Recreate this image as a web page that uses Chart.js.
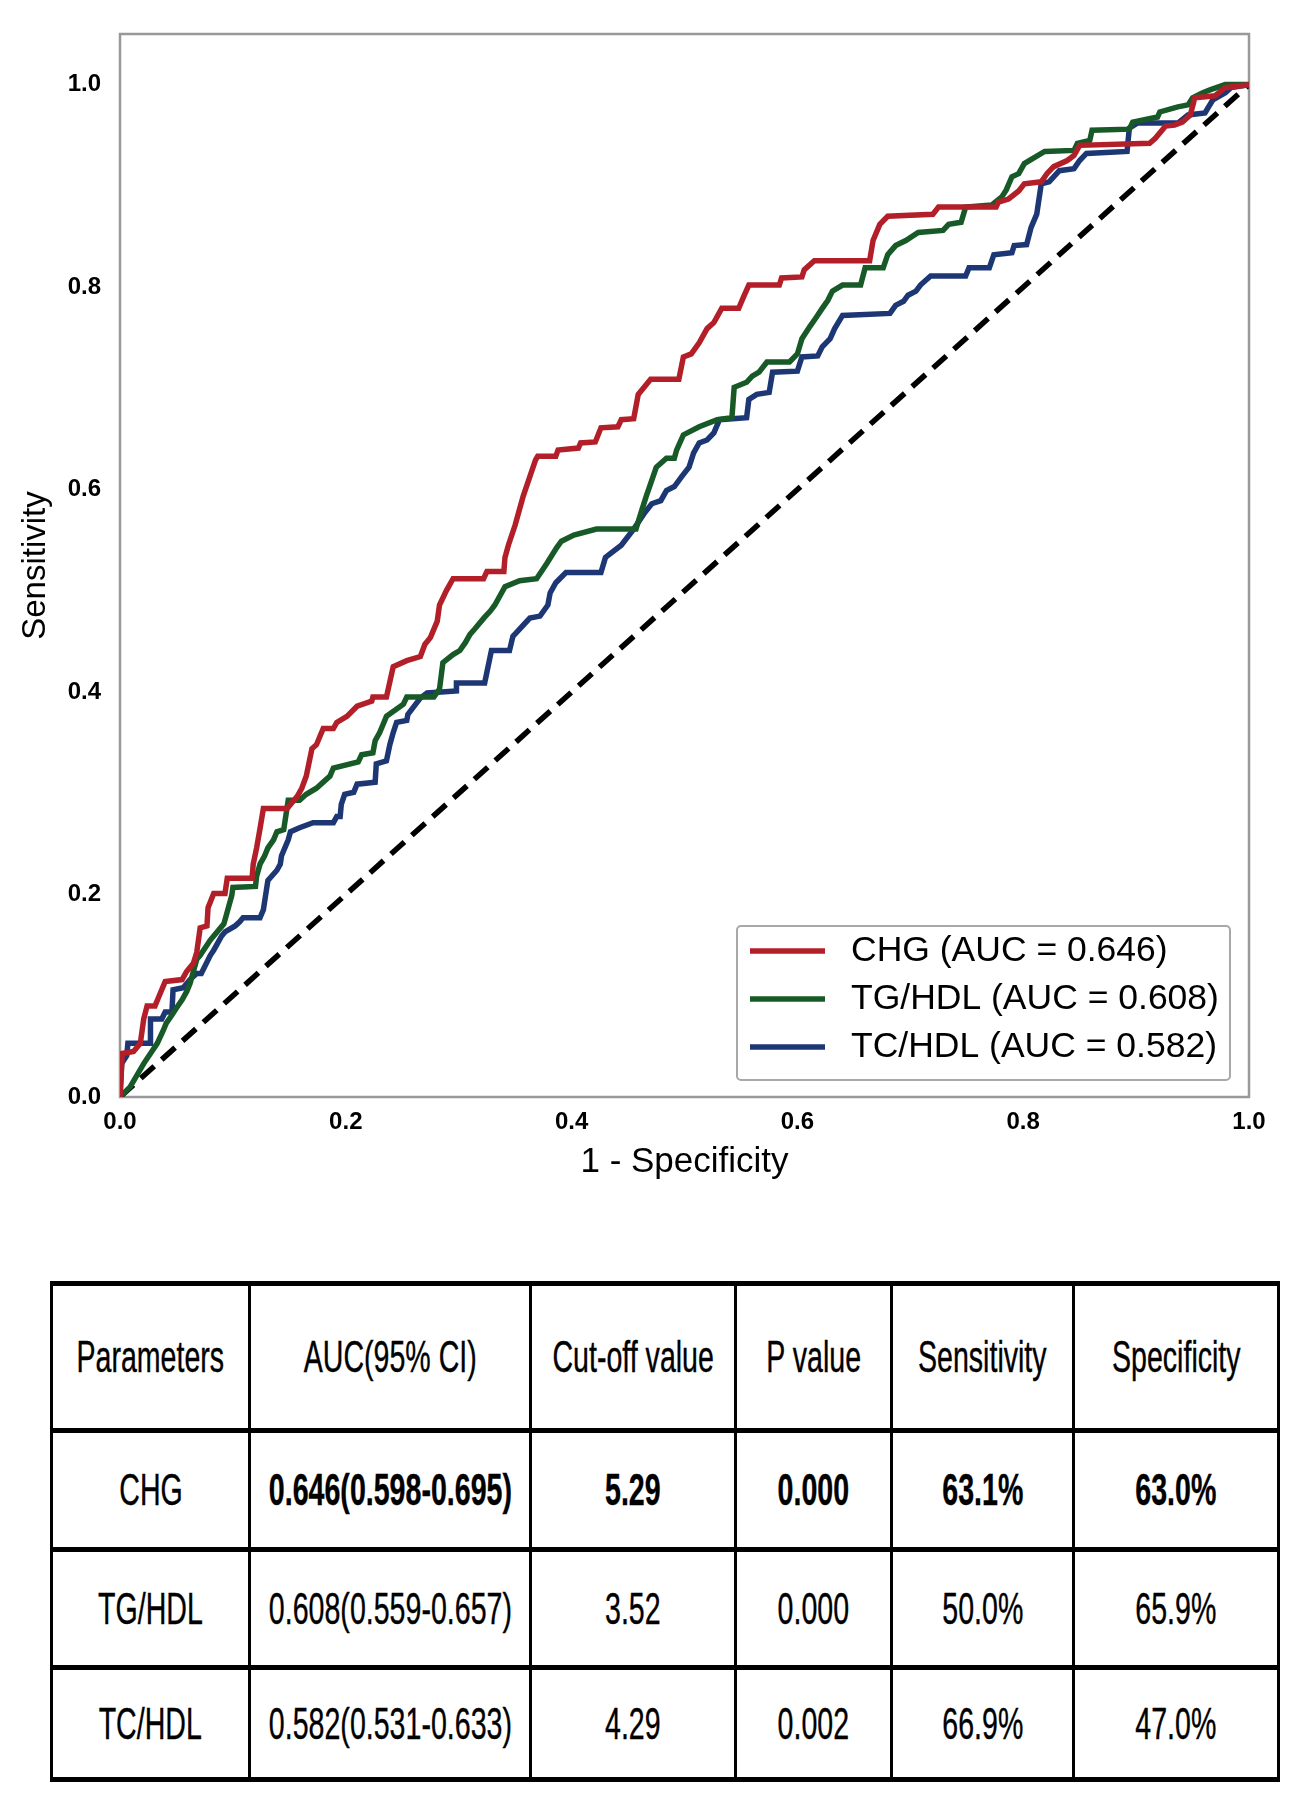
<!DOCTYPE html>
<html>
<head>
<meta charset="utf-8">
<script src="https://cdn.jsdelivr.net/npm/chart.js@4.4.0/dist/chart.umd.min.js"></script>
<style>
  body { margin: 0; background: #fff; width: 1290px; height: 1799px; position: relative; font-family: 'Liberation Sans', Arial, sans-serif; }
  #wrap { position: absolute; left: 0; top: 0; width: 1290px; height: 1200px; }
  #tbl { position: absolute; left: 50px; top: 1281px; width: 1227px; border-collapse: collapse; table-layout: fixed; }
  #tbl td { border-left: 3px solid #000; border-right: 3px solid #000; border-top: 5px solid #000; border-bottom: 5px solid #000; padding: 0; color: #000; font-size: 45px; }
  #tbl .c { display: flex; justify-content: center; align-items: center; }
  #tbl .c span { flex-shrink: 0; white-space: nowrap; transform: scaleX(0.635); -webkit-text-stroke: 0.4px #000; }
  #tbl .b span { font-weight: bold; }
</style>
</head>
<body>
<div id="wrap"><canvas id="roc"></canvas></div>
<table id="tbl"></table>
<script>
const fontFamily = "'Liberation Sans', Arial, sans-serif"

const seriesNames = ['CHG', 'TG/HDL', 'TC/HDL']
const aucValues = [0.646, 0.608, 0.582]
const seriesColors = ['#b31f29', '#175a27', '#1d3674']

// CHG curve (1 - specificity, sensitivity)
const chgFpr = [0, 0.002, 0.012, 0.018, 0.021, 0.024, 0.031, 0.034, 0.040, 0.055, 0.059, 0.065, 0.068, 0.071, 0.077, 0.078, 0.083, 0.093, 0.095, 0.117,
  0.118, 0.121, 0.124, 0.127, 0.148, 0.157, 0.161, 0.165, 0.170, 0.174, 0.180, 0.189, 0.192, 0.201, 0.210, 0.223, 0.224, 0.236, 0.242, 0.254,
  0.266, 0.270, 0.275, 0.281, 0.283, 0.289, 0.295, 0.322, 0.325, 0.340, 0.341, 0.344, 0.350, 0.357, 0.368, 0.370, 0.386, 0.388, 0.406, 0.408,
  0.421, 0.426, 0.441, 0.444, 0.455, 0.459, 0.470, 0.495, 0.499, 0.506, 0.513, 0.520, 0.526, 0.533, 0.548, 0.553, 0.557, 0.584, 0.586, 0.604,
  0.606, 0.615, 0.664, 0.667, 0.673, 0.680, 0.720, 0.725, 0.776, 0.778, 0.787, 0.796, 0.801, 0.816, 0.821, 0.827, 0.839, 0.845, 0.850, 0.912,
  0.917, 0.926, 0.934, 0.941, 0.948, 0.952, 0.970, 0.979, 1]
const chgTpr = [0, 0.043, 0.045, 0.053, 0.077, 0.090, 0.090, 0.098, 0.114, 0.116, 0.124, 0.132, 0.143, 0.167, 0.169, 0.187, 0.201, 0.201, 0.216, 0.216,
  0.230, 0.246, 0.265, 0.285, 0.285, 0.297, 0.305, 0.317, 0.344, 0.348, 0.364, 0.364, 0.370, 0.376, 0.386, 0.391, 0.395, 0.395, 0.425, 0.431,
  0.435, 0.447, 0.454, 0.470, 0.486, 0.500, 0.512, 0.512, 0.519, 0.519, 0.533, 0.545, 0.565, 0.593, 0.629, 0.633, 0.633, 0.639, 0.641, 0.646,
  0.647, 0.661, 0.662, 0.669, 0.670, 0.694, 0.709, 0.709, 0.731, 0.734, 0.745, 0.759, 0.765, 0.779, 0.779, 0.792, 0.802, 0.802, 0.809, 0.810,
  0.817, 0.826, 0.826, 0.846, 0.862, 0.870, 0.872, 0.879, 0.879, 0.884, 0.887, 0.895, 0.902, 0.904, 0.912, 0.919, 0.925, 0.930, 0.940, 0.942,
  0.947, 0.959, 0.960, 0.963, 0.970, 0.987, 0.989, 0.997, 1]

// TG/HDL curve
const tgFpr = [0, 0.009, 0.021, 0.027, 0.033, 0.038, 0.041, 0.046, 0.050, 0.055, 0.059, 0.062, 0.065, 0.068, 0.071, 0.080, 0.092, 0.099, 0.100, 0.120,
  0.121, 0.124, 0.128, 0.131, 0.136, 0.139, 0.145, 0.149, 0.159, 0.165, 0.174, 0.180, 0.186, 0.189, 0.211, 0.214, 0.224, 0.226, 0.230, 0.233,
  0.236, 0.251, 0.254, 0.278, 0.283, 0.286, 0.295, 0.301, 0.306, 0.310, 0.314, 0.323, 0.328, 0.332, 0.341, 0.354, 0.369, 0.378, 0.387, 0.391,
  0.402, 0.422, 0.457, 0.462, 0.466, 0.475, 0.484, 0.491, 0.493, 0.499, 0.513, 0.529, 0.542, 0.544, 0.555, 0.560, 0.566, 0.573, 0.593, 0.600,
  0.604, 0.611, 0.616, 0.622, 0.627, 0.631, 0.640, 0.656, 0.660, 0.676, 0.680, 0.687, 0.696, 0.707, 0.729, 0.734, 0.745, 0.749, 0.772, 0.781,
  0.785, 0.790, 0.796, 0.801, 0.819, 0.845, 0.848, 0.859, 0.861, 0.894, 0.897, 0.919, 0.921, 0.937, 0.946, 0.950, 0.959, 0.966, 0.979, 1]
const tgTpr = [0, 0.010, 0.033, 0.043, 0.053, 0.065, 0.073, 0.081, 0.088, 0.096, 0.104, 0.112, 0.124, 0.136, 0.140, 0.155, 0.171, 0.199, 0.207, 0.208,
  0.218, 0.230, 0.238, 0.246, 0.254, 0.262, 0.264, 0.293, 0.293, 0.299, 0.305, 0.311, 0.317, 0.325, 0.331, 0.338, 0.340, 0.352, 0.360, 0.368,
  0.376, 0.388, 0.395, 0.395, 0.403, 0.429, 0.437, 0.441, 0.449, 0.457, 0.462, 0.474, 0.480, 0.486, 0.504, 0.510, 0.512, 0.527, 0.543, 0.549,
  0.555, 0.561, 0.561, 0.579, 0.593, 0.622, 0.631, 0.631, 0.639, 0.654, 0.662, 0.669, 0.671, 0.701, 0.706, 0.712, 0.716, 0.726, 0.726, 0.734,
  0.749, 0.761, 0.769, 0.779, 0.787, 0.796, 0.802, 0.802, 0.819, 0.819, 0.832, 0.841, 0.846, 0.854, 0.856, 0.862, 0.864, 0.879, 0.881, 0.889,
  0.896, 0.909, 0.912, 0.922, 0.934, 0.935, 0.942, 0.945, 0.955, 0.956, 0.963, 0.968, 0.973, 0.978, 0.980, 0.987, 0.992, 0.995, 1.0, 1]

// TC/HDL curve
const tcFpr = [0, 0.0015, 0.006, 0.007, 0.027, 0.027, 0.037, 0.040, 0.046, 0.047, 0.056, 0.062, 0.068, 0.072, 0.080, 0.083, 0.086, 0.090, 0.093, 0.102,
  0.106, 0.109, 0.124, 0.127, 0.131, 0.139, 0.142, 0.143, 0.149, 0.151, 0.159, 0.171, 0.189, 0.192, 0.195, 0.196, 0.199, 0.207, 0.210, 0.226,
  0.227, 0.236, 0.239, 0.242, 0.245, 0.254, 0.255, 0.266, 0.272, 0.298, 0.298, 0.323, 0.329, 0.345, 0.348, 0.363, 0.372, 0.379, 0.381, 0.386,
  0.395, 0.426, 0.430, 0.444, 0.455, 0.464, 0.471, 0.479, 0.484, 0.491, 0.497, 0.504, 0.508, 0.513, 0.520, 0.526, 0.531, 0.555, 0.557, 0.564,
  0.575, 0.578, 0.600, 0.604, 0.618, 0.622, 0.629, 0.633, 0.640, 0.682, 0.687, 0.694, 0.698, 0.705, 0.709, 0.718, 0.749, 0.752, 0.770, 0.774,
  0.790, 0.792, 0.803, 0.807, 0.812, 0.816, 0.823, 0.832, 0.845, 0.850, 0.856, 0.892, 0.894, 0.901, 0.937, 0.946, 0.961, 0.968, 0.979, 0.984, 1]
const tcTpr = [0, 0.033, 0.041, 0.053, 0.053, 0.077, 0.077, 0.084, 0.084, 0.106, 0.108, 0.116, 0.122, 0.122, 0.140, 0.145, 0.151, 0.159, 0.163, 0.169,
  0.173, 0.177, 0.177, 0.185, 0.214, 0.224, 0.230, 0.238, 0.254, 0.262, 0.266, 0.271, 0.271, 0.277, 0.277, 0.289, 0.299, 0.301, 0.309, 0.311,
  0.329, 0.332, 0.348, 0.360, 0.370, 0.372, 0.378, 0.394, 0.399, 0.401, 0.409, 0.409, 0.441, 0.441, 0.455, 0.473, 0.475, 0.486, 0.498, 0.508,
  0.518, 0.518, 0.533, 0.545, 0.561, 0.576, 0.586, 0.589, 0.599, 0.603, 0.612, 0.622, 0.636, 0.646, 0.649, 0.656, 0.669, 0.671, 0.689, 0.694,
  0.696, 0.716, 0.717, 0.731, 0.732, 0.741, 0.749, 0.759, 0.772, 0.774, 0.782, 0.786, 0.792, 0.796, 0.802, 0.811, 0.811, 0.819, 0.819, 0.832,
  0.834, 0.841, 0.842, 0.859, 0.872, 0.902, 0.904, 0.915, 0.917, 0.925, 0.932, 0.934, 0.957, 0.962, 0.962, 0.970, 0.972, 0.985, 0.992, 0.997, 1]

// chance line
const diagX = [0, 1]
const diagY = [0, 1]

const xTicks = [0, 0.2, 0.4, 0.6, 0.8, 1.0]
const yTicks = [0, 0.2, 0.4, 0.6, 0.8, 1.0]

const tableHeader = ['Parameters', 'AUC(95% CI)', 'Cut-off value', 'P value', 'Sensitivity', 'Specificity']
const tableRows = [
  ['CHG', '0.646(0.598-0.695)', '5.29', '0.000', '63.1%', '63.0%'],
  ['TG/HDL', '0.608(0.559-0.657)', '3.52', '0.000', '50.0%', '65.9%'],
  ['TC/HDL', '0.582(0.531-0.633)', '4.29', '0.002', '66.9%', '47.0%']
]
const boldRow = 0

const toPoints = (xs, ys) => xs.map((x, i) => ({ x: x, y: ys[i] }))
const curves = [[chgFpr, chgTpr], [tgFpr, tgTpr], [tcFpr, tcTpr]]

const datasets = curves.map((c, i) => ({
  label: seriesNames[i] + ' (AUC = ' + aucValues[i].toFixed(3) + ')',
  data: toPoints(c[0], c[1]),
  borderColor: seriesColors[i],
  borderWidth: 5.5,
  showLine: true,
  pointRadius: 0,
  tension: 0,
  inLegend: true
}))
datasets.push({
  label: 'chance',
  data: toPoints(diagX, diagY),
  borderColor: '#000',
  borderWidth: 5.5,
  borderDash: [18, 10],
  showLine: true,
  pointRadius: 0
})

// grey box round the plot area
const frame = {
  id: 'frame',
  beforeDatasetsDraw(chart) {
    const { ctx, chartArea } = chart
    ctx.save()
    ctx.strokeStyle = '#999'
    ctx.lineWidth = 2.5
    ctx.strokeRect(chartArea.left, chartArea.top, chartArea.width, chartArea.height)
    ctx.restore()
  }
}

// matplotlib style legend in the lower right corner
const rocLegend = {
  id: 'rocLegend',
  afterDraw(chart) {
    const { ctx, chartArea } = chart
    const items = chart.data.datasets.filter(d => d.inLegend)
    const w = 493, h = 154
    const x0 = chartArea.right - 19 - w
    const y0 = chartArea.bottom - 17 - h
    ctx.save()
    ctx.beginPath()
    ctx.roundRect(x0, y0, w, h, 4)
    ctx.fillStyle = '#fff'
    ctx.fill()
    ctx.strokeStyle = '#a8a8a8'
    ctx.lineWidth = 2
    ctx.stroke()
    items.forEach((d, i) => {
      const y = y0 + 25 + i * 48
      ctx.beginPath()
      ctx.moveTo(x0 + 13, y)
      ctx.lineTo(x0 + 88, y)
      ctx.strokeStyle = d.borderColor
      ctx.lineWidth = 5.5
      ctx.stroke()
      ctx.fillStyle = '#000'
      ctx.font = '35.5px ' + fontFamily
      ctx.textBaseline = 'middle'
      ctx.fillText(d.label, x0 + 114, y)
    })
    ctx.restore()
  }
}

const ctx = document.getElementById('roc').getContext('2d')
const rocChart = new Chart(ctx, {
  type: 'scatter',
  data: { datasets: datasets },
  options: {
    responsive: true,
    maintainAspectRatio: false,
    animation: false,
    layout: { padding: { top: 34, right: 41, left: 0, bottom: 0 } },
    plugins: {
      legend: { display: false },
      tooltip: { enabled: false }
    },
    scales: {
      x: {
        type: 'linear',
        min: 0,
        max: 1,
        afterBuildTicks: s => { s.ticks = xTicks.map(v => ({ value: v })) },
        afterFit: s => { s.height = 103 },
        grid: { display: false, drawTicks: false },
        border: { display: false },
        ticks: { color: '#000', padding: 11, maxRotation: 0, font: { size: 24, weight: 'bold', family: fontFamily }, callback: v => v.toFixed(1) },
        title: { display: true, text: '1 - Specificity', color: '#000', font: { size: 35, family: fontFamily }, padding: { top: 0, bottom: 17 } }
      },
      y: {
        type: 'linear',
        min: 0,
        max: 1.05,
        afterBuildTicks: s => { s.ticks = yTicks.map(v => ({ value: v })) },
        afterFit: s => { s.width = 120 },
        grid: { display: false, drawTicks: false },
        border: { display: false },
        ticks: { color: '#000', padding: 19, font: { size: 24, weight: 'bold', family: fontFamily }, callback: v => v.toFixed(1) },
        title: { display: true, text: 'Sensitivity', color: '#000', font: { size: 33, family: fontFamily }, padding: { top: 16, bottom: 0 } }
      }
    }
  },
  plugins: [frame, rocLegend]
})

// results table under the chart
const colWidths = [195, 278, 202, 153, 179, 202]
const rowHeights = [147, 119, 118, 112]
const tbl = document.getElementById('tbl')
const addRow = (cells, r) => {
  const tr = document.createElement('tr')
  cells.forEach((txt, j) => {
    const td = document.createElement('td')
    td.style.width = colWidths[j] + 'px'
    const div = document.createElement('div')
    div.className = 'c' + (r === boldRow + 1 && j > 0 ? ' b' : '')
    div.style.height = (rowHeights[r] - 5) + 'px'
    const span = document.createElement('span')
    span.textContent = txt
    div.appendChild(span)
    td.appendChild(div)
    tr.appendChild(td)
  })
  tbl.appendChild(tr)
}
addRow(tableHeader, 0)
tableRows.forEach((row, i) => addRow(row, i + 1))
</script>
</body>
</html>
